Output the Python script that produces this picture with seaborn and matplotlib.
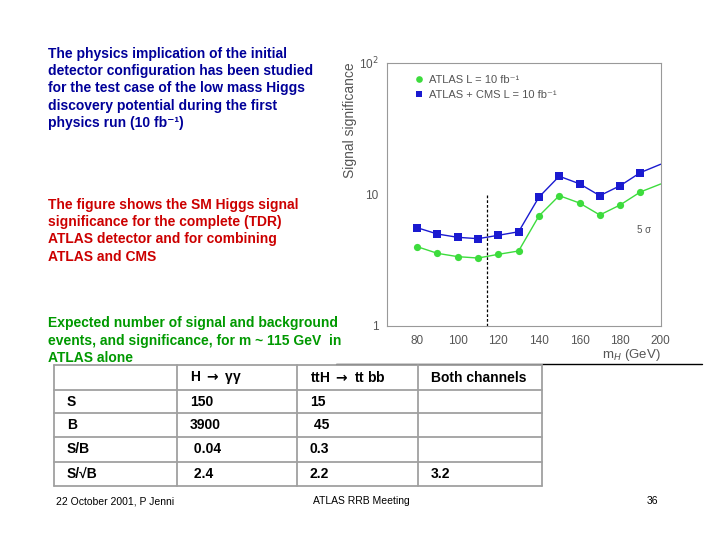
import matplotlib
matplotlib.use("Agg")
import matplotlib.pyplot as plt
from matplotlib.lines import Line2D
from matplotlib.ticker import FixedLocator, MultipleLocator, LogLocator, NullFormatter
import numpy as np
import pandas as pd
import seaborn as sns

# ---------------- data ----------------
mass = [80, 90, 100, 110, 120, 130, 140, 150, 160, 170, 180, 190, 200]
sig_atlas = [3.99, 3.55, 3.35, 3.27, 3.49, 3.70, 6.83, 9.75, 8.57, 6.95, 8.28, 10.4, 11.96]
sig_combined = [5.56, 4.98, 4.70, 4.59, 4.87, 5.18, 9.5, 13.7, 12.0, 9.75, 11.6, 14.6, 16.9]
series_names = ["ATLAS L = 10 fb⁻¹", "ATLAS + CMS L = 10 fb⁻¹"]
mh_ref = 114.4
x_ticks = [80, 100, 120, 140, 160, 180, 200]
y_ticks = [1, 10, 100]
y_tick_labels = ["1", "10", "10$^{2}$"]

para1 = ["The physics implication of the initial",
         "detector configuration has been studied",
         "for the test case of the low mass Higgs",
         "discovery potential during the first",
         "physics run (10 fb⁻¹)"]
para2 = ["The figure shows the SM Higgs signal",
         "significance for the complete (TDR)",
         "ATLAS detector and for combining",
         "ATLAS and CMS"]
para3 = ["Expected number of signal and background",
         "events, and significance, for m ~ 115 GeV  in",
         "ATLAS alone"]

table_header = ["", "H $\\mathbf{\\rightarrow}$ γγ", "ttH $\\mathbf{\\rightarrow}$ tt bb", "Both channels"]
row_labels = ["S", "B", "S/B", "S/√B"]
col_hgg = ["150", "3900", " 0.04", " 2.4"]
col_tth = ["15", " 45", "0.3", "2.2"]
col_both = ["", "", "", "3.2"]

footer_left = "22 October 2001, P Jenni"
footer_mid = "ATLAS RRB Meeting"
footer_right = "36"

# ---------------- style ----------------
sns.set_theme(style="white")
plt.rcParams["font.family"] = ["Liberation Sans", "DejaVu Sans"]

W, H = 720, 540
fig = plt.figure(figsize=(7.2, 5.4), dpi=100)
fig.patch.set_facecolor("white")

def fx(x):
    return x / W

def fy(y):
    return 1 - y / H

# ---------------- chart ----------------
ax_l, ax_r, ax_t, ax_b = 386.7, 660.7, 62.7, 325.7
ax = fig.add_axes([fx(ax_l), fy(ax_b), (ax_r - ax_l) / W, (ax_b - ax_t) / H])

df = pd.DataFrame({
    "mass": mass * 2,
    "sig": sig_atlas + sig_combined,
    "series": [series_names[0]] * len(mass) + [series_names[1]] * len(mass),
})
green = "#3ddc3d"
blue = "#1a1ad0"
sns.lineplot(data=df, x="mass", y="sig", hue="series", style="series",
             palette={series_names[0]: green, series_names[1]: blue},
             markers={series_names[0]: "o", series_names[1]: "s"},
             dashes=False, markersize=5.2, markeredgewidth=0, linewidth=1.0,
             markevery=list(range(len(mass) - 1)), ax=ax, legend=False)

ax.plot([mh_ref, mh_ref], [1, 10], color="black", lw=0.9, ls=(0, (2.2, 1.6)))
ax.text(192, 5.3, "5 σ", fontsize=7, color="#555555", ha="center", va="center")

ax.set_yscale("log")
ax.set_xlim(65, 200)
ax.set_ylim(1, 100)
ax.xaxis.set_major_locator(FixedLocator(x_ticks))
ax.xaxis.set_minor_locator(MultipleLocator(4))
ax.yaxis.set_major_locator(FixedLocator(y_ticks))
ax.set_yticklabels(y_tick_labels)
ax.yaxis.set_minor_locator(LogLocator(base=10, subs=np.arange(2, 10)))
ax.yaxis.set_minor_formatter(NullFormatter())
ax.tick_params(axis="both", which="major", direction="in", length=7, width=0.7,
               color="#777777", labelcolor="#555555", labelsize=8.5, pad=7)
ax.tick_params(axis="y", which="major", pad=6)
ax.tick_params(axis="both", which="minor", direction="in", length=3.5, width=0.6,
               color="#777777")
for s in ax.spines.values():
    s.set_color("#999999")
    s.set_linewidth(0.8)
ax.set_xlabel("m$_{H}$ (GeV)", fontsize=9.5, color="#555555", loc="right", labelpad=0)
ax.set_ylabel("Signal significance", fontsize=10, color="#555555", loc="top")
ax.yaxis.set_label_coords((357 - ax_l) / (ax_r - ax_l), 1.0)

handles = [Line2D([], [], ls="none", marker="o", color=green, markersize=4.8, markeredgewidth=0),
           Line2D([], [], ls="none", marker="s", color=blue, markersize=4.8, markeredgewidth=0)]
ax.legend(handles, series_names, loc="upper left", bbox_to_anchor=(0.065, 0.99),
          frameon=False, fontsize=8, handlelength=0.8, handletextpad=0.5,
          labelspacing=0.45, labelcolor="#555555")

# ---------------- slide text ----------------
def paragraph(lines, y0, color, step=17.2):
    for i, line in enumerate(lines):
        fig.text(fx(48), fy(y0 + i * step), line, fontsize=10, fontweight="bold",
                 color=color, ha="left", va="center")

paragraph(para1, 54, "#000099")
paragraph(para2, 205, "#cc0000")
paragraph(para3, 323.3, "#009900")

fig.add_artist(Line2D([fx(336), fx(702)], [fy(364), fy(364)], color="black", lw=1.0))

# ---------------- table ----------------
col_edges = [54, 176.7, 297.3, 418.3, 541.7]
row_edges = [365, 390, 413.3, 436.7, 461.7, 486]
tcol = "#a0a0a0"
for x in col_edges:
    fig.add_artist(Line2D([fx(x), fx(x)], [fy(row_edges[0]), fy(row_edges[-1])], color=tcol, lw=1.3))
for y in row_edges:
    fig.add_artist(Line2D([fx(col_edges[0]), fx(col_edges[-1])], [fy(y), fy(y)], color=tcol, lw=1.3))

text_x = [66.7, 190, 310, 431]
for j, h in enumerate(table_header):
    if h:
        fig.text(fx(text_x[j]), fy((row_edges[0] + row_edges[1]) / 2), h, fontsize=10,
                 fontweight="bold", color="black", ha="left", va="center")
columns = [row_labels, col_hgg, col_tth, col_both]
for j, col in enumerate(columns):
    for i, val in enumerate(col):
        if val:
            fig.text(fx(text_x[j]), fy((row_edges[i + 1] + row_edges[i + 2]) / 2), val,
                     fontsize=10, fontweight="bold", color="black", ha="left", va="center")

# ---------------- footer ----------------
fig.text(fx(56), fy(501), footer_left, fontsize=7.5, color="black", ha="left", va="center")
fig.text(fx(313), fy(501), footer_mid, fontsize=7.5, color="black", ha="left", va="center")
fig.text(fx(658), fy(501), footer_right, fontsize=7.5, color="black", ha="right", va="center")

fig.savefig("out.png", dpi=100, facecolor="white")
